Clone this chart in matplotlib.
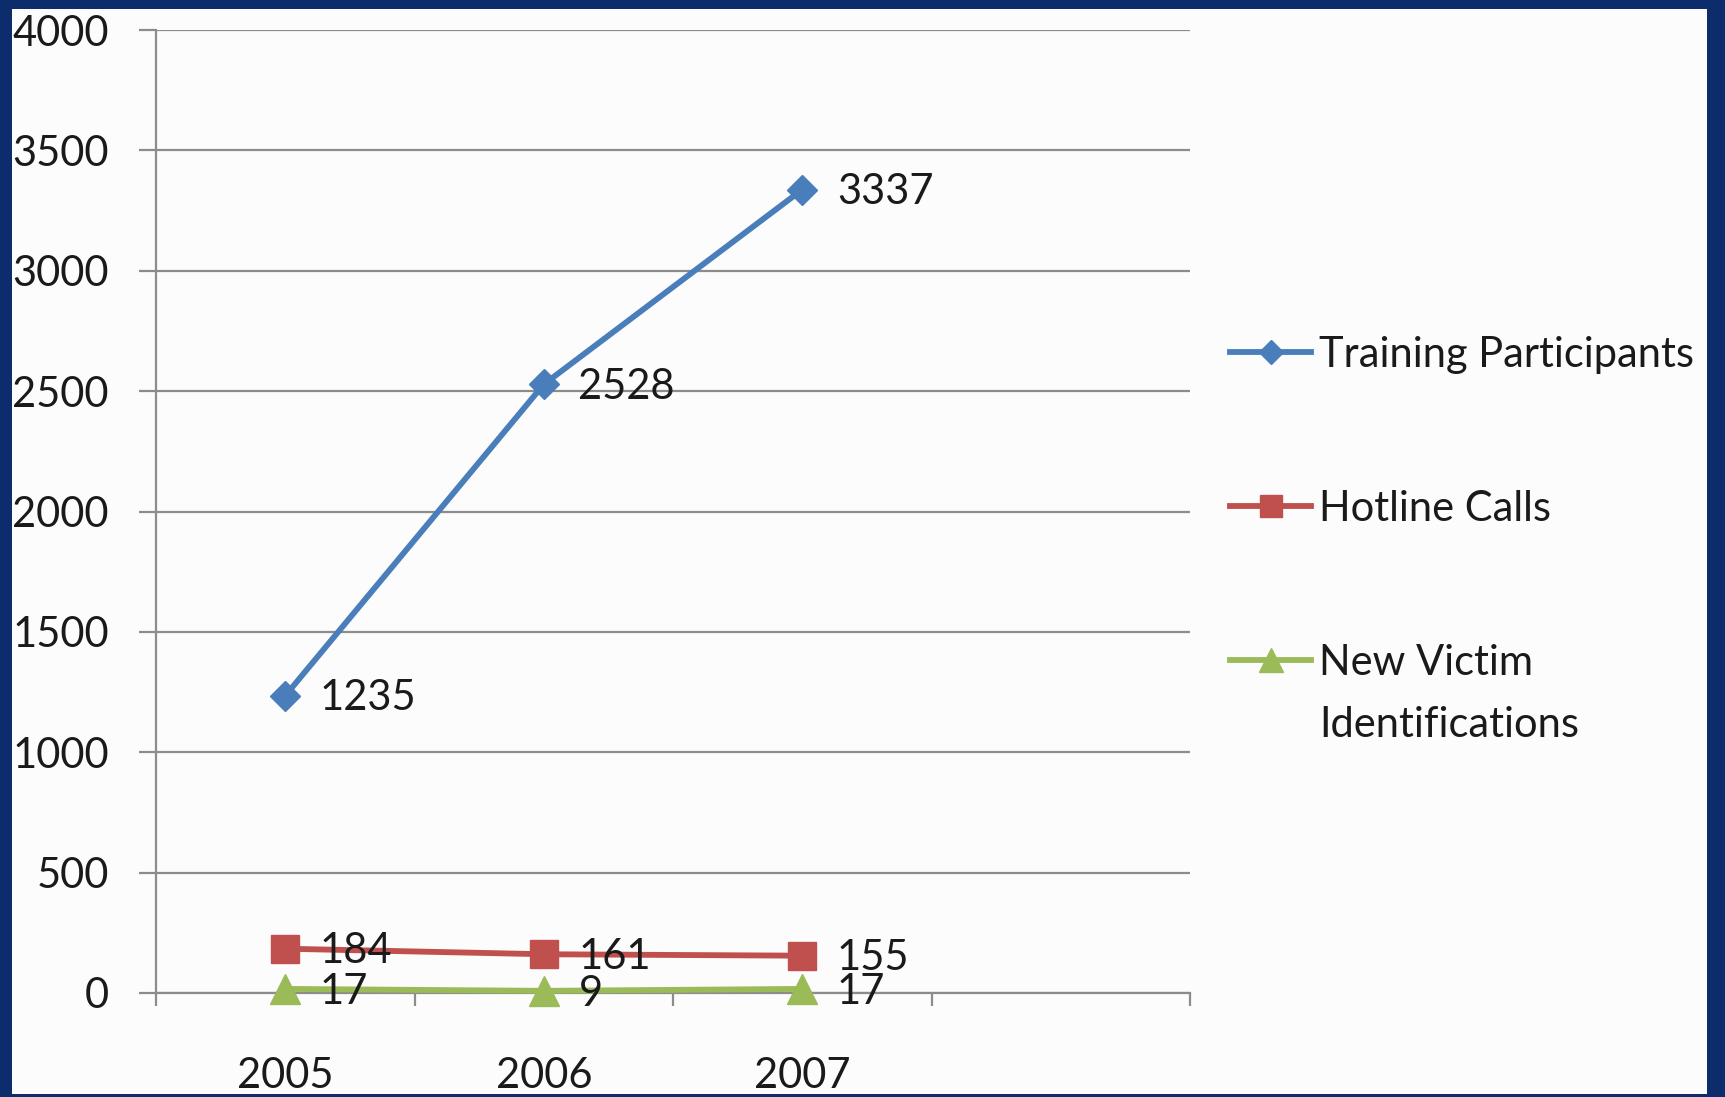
import matplotlib
matplotlib.use("Agg")
import matplotlib.pyplot as plt
from matplotlib.patches import Rectangle
from matplotlib.lines import Line2D
import numpy as np

# chart data
years = ["2005", "2006", "2007"]
n_slots = 4  # the category axis keeps an empty fourth slot
training = [1235, 2528, 3337]
hotline = [184, 161, 155]
victims = [17, 9, 17]
series_names = ["Training Participants", "Hotline Calls", "New Victim\nIdentifications"]
series_values = [training, hotline, victims]
series_colors = ["#4a7ebb", "#c0504d", "#9bbb59"]
series_markers = ["D", "s", "^"]
series_msize = [15, 20, 21]
y_ticks = list(range(0, 4001, 500))

plt.rcParams["font.family"] = ["Lato", "DejaVu Sans"]
W, H = 1725, 1097
FS = 30
TXT = "#1a1a1a"

fig = plt.figure(figsize=(W / 100, H / 100), dpi=100, facecolor="#0c2c6c")
# white slide panel inside the navy frame
fig.patches.append(Rectangle((12 / W, 3 / H), (1707 - 12) / W, (1094 - 9) / H,
                             transform=fig.transFigure, facecolor="#fcfcfc",
                             edgecolor="none", zorder=-1))

ax = fig.add_axes([156 / W, 104 / H, (1190 - 156) / W, (993 - 30) / H])
ax.set_facecolor("none")

x = np.arange(len(years))
for vals, col, mk, ms in zip(series_values, series_colors, series_markers, series_msize):
    ax.plot(x, vals, color=col, lw=4.2, marker=mk, ms=ms, mec=col, mfc=col,
            zorder=3, clip_on=False)
    for xi, v in zip(x, vals):
        ax.annotate(str(v), (xi, v), xytext=(25, -2), textcoords="offset points",
                    ha="left", va="center", fontsize=FS, color=TXT, zorder=4)

ax.set_xlim(-0.5, n_slots - 0.5)
ax.set_ylim(0, 4000)
ax.set_yticks(y_ticks)
ax.set_yticklabels([str(t) for t in y_ticks])
ax.yaxis.grid(True, color="#8c8c8c", lw=1.6)
ax.set_axisbelow(True)

# boundaries get tick marks, centres get the year labels
ax.set_xticks(np.arange(-0.5, n_slots, 1.0))
ax.set_xticklabels([])
ax.set_xticks(x, minor=True)
ax.set_xticklabels(years, minor=True)
ax.tick_params(axis="x", which="major", length=9, width=1.6, color="#8c8c8c")
ax.tick_params(axis="x", which="minor", length=0, pad=46, labelsize=FS, labelcolor=TXT)
ax.tick_params(axis="y", length=12, width=1.6, color="#8c8c8c", pad=22,
               labelsize=FS, labelcolor=TXT)

for s in ["top", "right"]:
    ax.spines[s].set_visible(False)
for s in ["left", "bottom"]:
    ax.spines[s].set_color("#8c8c8c")
    ax.spines[s].set_linewidth(1.6)

# legend drawn on the figure, one row per series
leg_y = [352, 506, 660]
for name, col, mk, ms, yy in zip(series_names, series_colors, series_markers, series_msize, leg_y):
    fy = 1 - yy / H
    fig.add_artist(Line2D([1230 / W, 1311 / W], [fy, fy], transform=fig.transFigure,
                          color=col, lw=4.2))
    fig.add_artist(Line2D([1270.5 / W], [fy], transform=fig.transFigure, color=col,
                          marker=mk, ms=ms * 0.8, mec=col, mfc=col, lw=0))
    fig.text(1319 / W, fy + 16 / H, name, fontsize=FS, color=TXT, ha="left",
             va="top", linespacing=1.78)

fig.savefig("out.png", dpi=100, facecolor=fig.get_facecolor())
